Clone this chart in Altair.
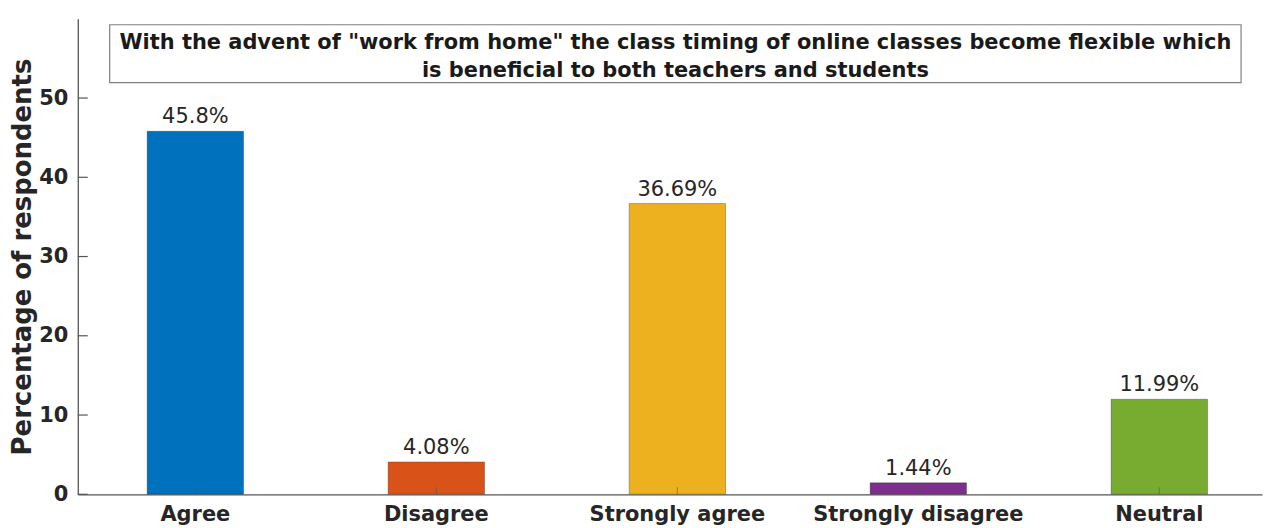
import altair as alt
import pandas as pd

categories = ["Agree", "Disagree", "Strongly agree", "Strongly disagree", "Neutral"]
percentages = [45.8, 4.08, 36.69, 1.44, 11.99]
labels = ["45.8%", "4.08%", "36.69%", "1.44%", "11.99%"]
colors = ["#0072BD", "#D95319", "#EDB120", "#7E2F8E", "#77AC30"]
y_ticks = [0, 10, 20, 30, 40, 50]
title_lines = [
    'With the advent of "work from home" the class timing of online classes become flexible which',
    "is beneficial to both teachers and students",
]

df = pd.DataFrame({"category": categories, "pct": percentages, "label": labels})
ticks_df = pd.DataFrame({"tick": y_ticks})
dummy = pd.DataFrame({"a": [0]})

W, H = 1188, 477
FONT = "DejaVu Sans"
AXC = "#555555"
TXT = "#262626"

x_scale = alt.Scale(paddingInner=0.6, paddingOuter=0.257, align=0.56)
y_scale = alt.Scale(domain=[0, 60], nice=False)

x_axis = alt.Axis(title=None, labelAngle=0, labelFont=FONT, labelFontWeight="bold",
                  labelFontSize=21, labelColor=TXT, labelPadding=9, labelLimit=0,
                  ticks=False, domainColor=AXC, domainWidth=1.3)
y_axis = alt.Axis(values=y_ticks, title="Percentage of respondents", titleFont=FONT,
                  titleFontWeight="bold", titleFontSize=26, titleColor=TXT, titlePadding=3,
                  labelFont=FONT, labelFontWeight="bold", labelFontSize=21, labelColor=TXT,
                  labelPadding=10, ticks=False, grid=False, domainColor=AXC, domainWidth=1.3)

bars = alt.Chart(df).mark_bar(stroke="#1a1a1a", strokeWidth=0.6, strokeOpacity=0.5).encode(
    x=alt.X("category:N", sort=categories, scale=x_scale, axis=x_axis),
    y=alt.Y("pct:Q", scale=y_scale, axis=y_axis),
    color=alt.Color("category:N", sort=categories,
                    scale=alt.Scale(domain=categories, range=colors), legend=None),
)

bar_text = alt.Chart(df).mark_text(
    baseline="bottom", dy=-4, font=FONT, fontSize=21, color=TXT
).encode(
    x=alt.X("category:N", sort=categories, scale=x_scale, axis=x_axis),
    y=alt.Y("pct:Q", scale=y_scale, axis=y_axis),
    text="label:N",
)

y_inner_ticks = alt.Chart(ticks_df).mark_rule(color=AXC, strokeWidth=1.2).encode(
    y=alt.Y("tick:Q", scale=y_scale, axis=y_axis),
    x=alt.value(0), x2=alt.value(10),
)

x_inner_ticks = alt.Chart(df).mark_rule(color=AXC, strokeWidth=1, opacity=0.6).encode(
    x=alt.X("category:N", sort=categories, scale=x_scale, axis=x_axis),
    y=alt.value(H), y2=alt.value(H - 7),
)

title_box = alt.Chart(dummy).mark_rect(fill="white", stroke="#808080", strokeWidth=1.2).encode(
    x=alt.value(32), x2=alt.value(1167), y=alt.value(6), y2=alt.value(64),
)

title_text = alt.Chart(dummy).mark_text(
    text=title_lines, font=FONT, fontWeight="bold", fontSize=21, color="#1a1a1a",
    align="center", baseline="middle", lineHeight=28,
).encode(x=alt.value(599.5), y=alt.value(24))

chart = alt.layer(bars, bar_text, x_inner_ticks, y_inner_ticks, title_box, title_text).properties(
    width=W, height=H,
    padding={"left": 70, "top": 10, "right": 4, "bottom": 33},
    autosize=alt.AutoSizeParams(type="none"),
    background="white",
).configure_view(stroke=None)

chart.save("out.html", embed_options={"renderer": "svg", "actions": False})
